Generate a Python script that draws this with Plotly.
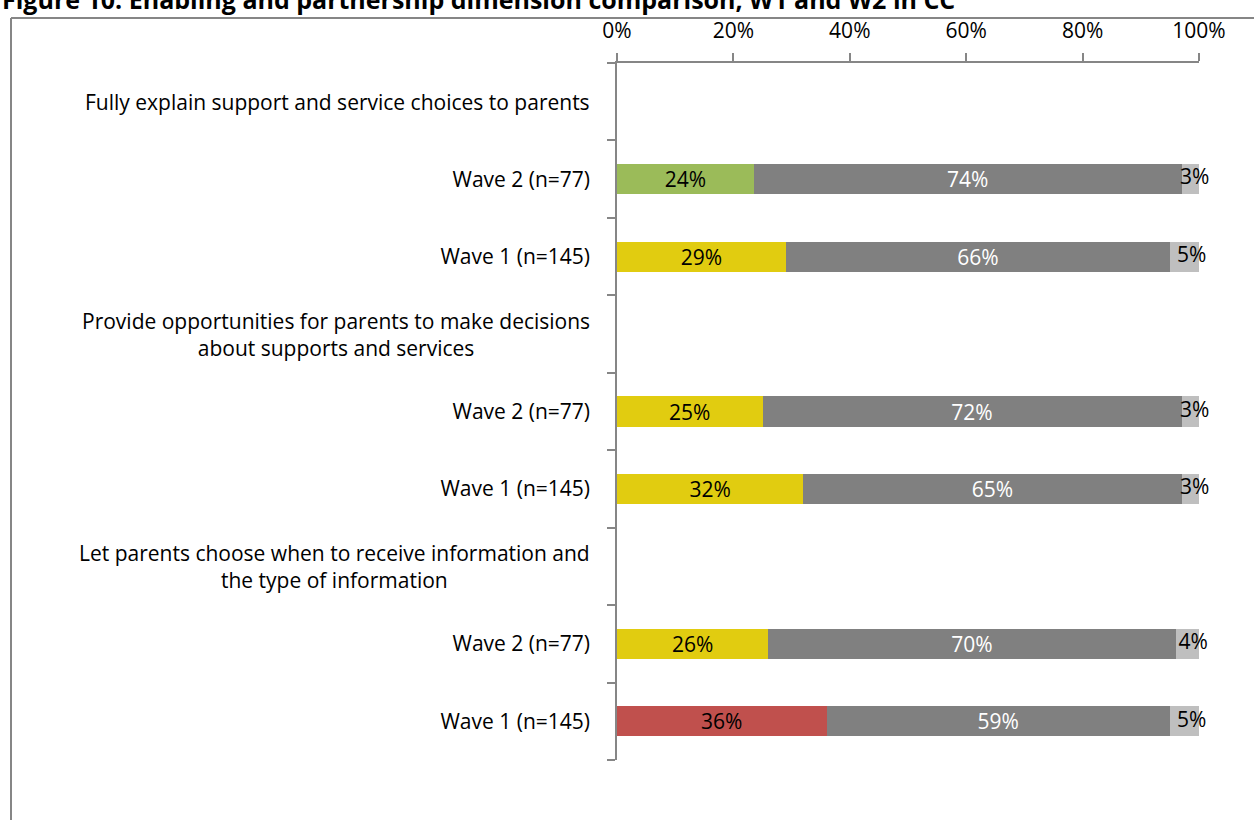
import plotly.graph_objects as go

# ---- data ----
row_ids = ["h1", "g1w2", "g1w1", "h2", "g2w2", "g2w1", "h3", "g3w2", "g3w1"]
row_labels = ["", "Wave 2 (n=77)", "Wave 1 (n=145)",
              "", "Wave 2 (n=77)", "Wave 1 (n=145)",
              "", "Wave 2 (n=77)", "Wave 1 (n=145)"]
header_ids = ["h1", "h2", "h3"]
header_texts = ["Fully explain support and service choices to parents",
                "Provide opportunities for parents to make decisions<br>about supports and services",
                "Let parents choose when to receive information and<br>the type of information"]
seg1 = [None, 23.5, 29, None, 25, 32, None, 26, 36]
seg2 = [None, 73.5, 66, None, 72, 65, None, 70, 59]
seg3 = [None, 3, 5, None, 3, 3, None, 4, 5]
seg1_colors = ["#FFFFFF", "#9BBB59", "#E1CC10", "#FFFFFF", "#E1CC10", "#E1CC10",
               "#FFFFFF", "#E1CC10", "#C0504D"]
x_ticks = [0, 20, 40, 60, 80, 100]
title_text = "Figure 10: Enabling and partnership dimension comparison, W1 and W2 in CC"

FONT = "Open Sans"
FS = 21


def lab(v):
    return "" if v is None else f"{round(v)}%"


fig = go.Figure()
fig.add_trace(go.Bar(y=row_ids, x=seg1, orientation="h",
                     marker=dict(color=seg1_colors, line=dict(width=0)),
                     text=[lab(v) for v in seg1], textposition="inside",
                     insidetextanchor="middle", textangle=0,
                     textfont=dict(color="black", size=FS, family=FONT),
                     hoverinfo="skip"))
fig.add_trace(go.Bar(y=row_ids, x=seg2, orientation="h",
                     marker=dict(color="#808080", line=dict(width=0)),
                     text=[lab(v) for v in seg2], textposition="inside",
                     insidetextanchor="middle", textangle=0,
                     textfont=dict(color="white", size=FS, family=FONT),
                     hoverinfo="skip"))
fig.add_trace(go.Bar(y=row_ids, x=seg3, orientation="h",
                     marker=dict(color="#BFBFBF", line=dict(width=0)),
                     hoverinfo="skip"))
# labels for the small last segment (allowed to overflow the bar end)
ids3 = [r for r, v in zip(row_ids, seg3) if v is not None]
xs3 = [a + b + 0.75 * c for a, b, c in zip(seg1, seg2, seg3) if c is not None]
txt3 = [lab(v) for v in seg3 if v is not None]
fig.add_trace(go.Scatter(y=ids3, x=xs3, mode="text", text=txt3,
                         textposition="middle center",
                         textfont=dict(color="black", size=FS, family=FONT),
                         hoverinfo="skip", cliponaxis=False))

fig.update_layout(
    barmode="stack", bargap=0.61,
    uniformtext=dict(minsize=FS, mode="show"),
    width=1254, height=820,
    margin=dict(l=617, r=55, t=63, b=60),
    paper_bgcolor="white", plot_bgcolor="white",
    showlegend=False,
    font=dict(family=FONT, size=FS, color="black"),
    xaxis=dict(side="top", range=[0, 100], tickvals=x_ticks,
               ticktext=[f"{t}%" for t in x_ticks],
               ticks="outside", ticklen=8, tickcolor="#868686", tickwidth=1.5,
               showline=True, linecolor="#868686", linewidth=1.5,
               showgrid=False, zeroline=False, ticklabelstandoff=7,
               tickfont=dict(size=FS, family=FONT, color="black")),
    yaxis=dict(type="category", categoryorder="array", categoryarray=row_ids,
               tickmode="array", tickvals=row_ids, ticktext=row_labels,
               range=[8.5, -0.5], tickson="boundaries",
               ticks="outside", ticklen=8, tickcolor="#868686", tickwidth=1.5,
               showline=True, linecolor="#868686", linewidth=1.5,
               showgrid=False, zeroline=False, ticklabelstandoff=21,
               tickfont=dict(size=FS, family=FONT, color="black")),
)

for hid, htxt in zip(header_ids, header_texts):
    fig.add_annotation(x=0, xref="paper", y=hid, yref="y", text=htxt,
                       showarrow=False, xanchor="right", xshift=-25,
                       align="center", font=dict(size=FS, family=FONT, color="black"))

# chart frame (left and top edges visible)
fig.add_shape(type="line", xref="paper", yref="paper",
              x0=(11 - 617) / 582, x1=(1254 - 617) / 582 + 0.01,
              y0=(760 - 18) / 697, y1=(760 - 18) / 697,
              line=dict(color="#868686", width=2))
fig.add_shape(type="line", xref="paper", yref="paper",
              x0=(11 - 617) / 582, x1=(11 - 617) / 582,
              y0=(760 - 18) / 697, y1=(760 - 830) / 697,
              line=dict(color="#868686", width=2))

fig.add_annotation(x=(0 - 617) / 582, xref="paper", y=(760 + 1) / 697, yref="paper",
                   text=f"<b>{title_text}</b>", showarrow=False,
                   xanchor="left", yanchor="middle",
                   font=dict(size=25, family=FONT, color="black"))

fig.write_html("out.html")
